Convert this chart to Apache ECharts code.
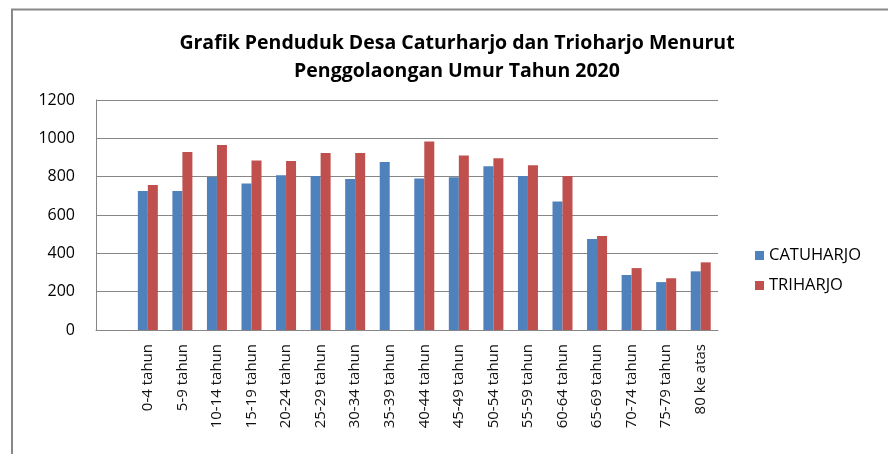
<!DOCTYPE html>
<html><head><meta charset="utf-8">
<script src="https://cdn.jsdelivr.net/npm/echarts@6/dist/echarts.min.js"></script>
<style>html,body{margin:0;padding:0;background:#fff}#c{width:888px;height:454px}</style>
</head><body><div id="c"></div>
<script>
const categories = ['', '0-4 tahun', '5-9 tahun', '10-14 tahun', '15-19 tahun', '20-24 tahun', '25-29 tahun', '30-34 tahun', '35-39 tahun', '40-44 tahun', '45-49 tahun', '50-54 tahun', '55-59 tahun', '60-64 tahun', '65-69 tahun', '70-74 tahun', '75-79 tahun', '80 ke atas'];
const catuharjo = [null, 725, 725, 798, 765, 807, 803, 788, 876, 790, 797, 854, 803, 670, 475, 287, 250, 306];
const triharjo = [null, 756, 929, 965, 885, 882, 923, 923, null, 983, 910, 896, 859, 803, 490, 323, 270, 353];
const yTicks = [0, 200, 400, 600, 800, 1000, 1200];

const chart = echarts.init(document.getElementById('c'), null, {renderer: 'canvas'});
const font = 'Open Sans, Noto Sans, sans-serif';
chart.setOption({
  animation: false,
  backgroundColor: '#fff',
  graphic: [{
    type: 'rect', shape: {x: 12, y: 9.5, width: 1000, height: 1000},
    style: {fill: 'none', stroke: '#888', lineWidth: 2}, silent: true
  }],
  title: {
    text: 'Grafik Penduduk Desa Caturharjo dan Trioharjo Menurut\nPenggolaongan Umur Tahun 2020',
    left: 452, top: 24, textAlign: 'center',
    textStyle: {fontFamily: font, fontWeight: 'bold', fontSize: 19.5, lineHeight: 28, color: '#000'}
  },
  legend: {
    orient: 'vertical', left: 750, top: 242, itemWidth: 9, itemHeight: 9, itemGap: 13,
    icon: 'rect',
    textStyle: {fontFamily: font, fontSize: 16.5, color: '#000'},
    data: ['CATUHARJO', 'TRIHARJO']
  },
  grid: {left: 96, right: 170, top: 100, bottom: 124, containLabel: false},
  xAxis: {
    type: 'category', data: categories,
    axisLine: {lineStyle: {color: '#868686', width: 1}},
    axisTick: {show: false},
    axisLabel: {rotate: 90, interval: 0, margin: 14, fontFamily: font, fontSize: 15, color: '#111'}
  },
  yAxis: {
    type: 'value', min: 0, max: 1200, interval: 200,
    axisLine: {show: true, lineStyle: {color: '#868686'}},
    axisTick: {show: false},
    splitLine: {lineStyle: {color: '#868686'}},
    axisLabel: {margin: 21, fontFamily: font, fontSize: 16, color: '#000',
      formatter: v => yTicks.includes(v) ? String(v) : ''}
  },
  series: [
    {name: 'CATUHARJO', type: 'bar', data: catuharjo, barWidth: 10, barGap: '0%',
     itemStyle: {color: '#4f81bd'}},
    {name: 'TRIHARJO', type: 'bar', data: triharjo, barWidth: 10, barGap: '0%',
     itemStyle: {color: '#c0504d'}}
  ]
});
</script></body></html>
